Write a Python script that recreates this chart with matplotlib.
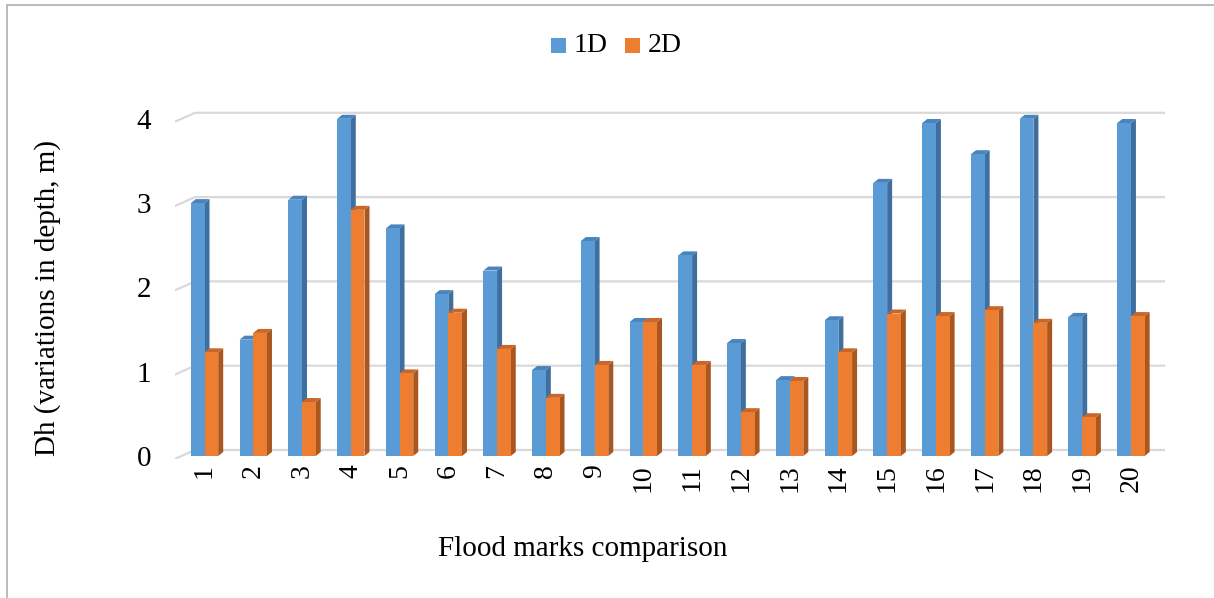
import matplotlib
matplotlib.use("Agg")
import matplotlib.pyplot as plt
from matplotlib.patches import Polygon, Rectangle
from matplotlib.lines import Line2D

# Flood mark depth variations (m)
marks = [str(i) for i in range(1, 21)]
dh_1d = [3.00, 1.38, 3.04, 4.00, 2.70, 1.92, 2.20, 1.02, 2.55, 1.59,
         2.38, 1.34, 0.90, 1.61, 3.24, 3.95, 3.58, 4.00, 1.65, 3.95]
dh_2d = [1.23, 1.46, 0.64, 2.92, 0.98, 1.70, 1.27, 0.69, 1.08, 1.59,
         1.08, 0.52, 0.89, 1.23, 1.69, 1.66, 1.73, 1.58, 0.46, 1.66]
series_names = ["1D", "2D"]
y_ticks = [0, 1, 2, 3, 4]

W, H = 1214, 598
DPI = 100
plt.rcParams["font.family"] = ["Liberation Serif", "DejaVu Serif"]

fig = plt.figure(figsize=(W / DPI, H / DPI), dpi=DPI)

# pixel scale of the plot area
px_per_x = 48.76
px_per_y = 84.3
x_lo, x_hi = -0.61, 19.70
y_lo, y_hi = -0.036, 4.30
base_px = 456
left_px = 204.5 + x_lo * px_per_x
right_px = 204.5 + x_hi * px_per_x
bottom_px = base_px - y_lo * px_per_y
top_px = base_px - y_hi * px_per_y
ax = fig.add_axes([left_px / W, 1 - bottom_px / H,
                   (right_px - left_px) / W, (bottom_px - top_px) / H])
ax.set_xlim(x_lo, x_hi)
ax.set_ylim(y_lo, y_hi)
for s in ax.spines.values():
    s.set_visible(False)

# depth offsets of the pseudo-3D look (in data units)
ddx = 5 / px_per_x
ddy = 4 / px_per_y
back_dy = 6 / px_per_y
front_dy = -3 / px_per_y
back_x = (195 - 204.5) / px_per_x

grid_col = "#d9d9d9"
for v in y_ticks:
    ax.add_line(Line2D([x_lo, back_x, x_hi], [v + front_dy, v + back_dy, v + back_dy],
                       color=grid_col, lw=1.6, zorder=1, solid_joinstyle="miter"))

bar_w = 13.7 / px_per_x
palette = [
    ("#5b9bd5", "#3f6f9e", "#4a84bd"),
    ("#ed7d31", "#a9561f", "#c9672a"),
]


def draw_bar(x0, h, cols, z):
    front, side, top = cols
    x1 = x0 + bar_w
    ax.add_patch(Polygon([(x1, 0), (x1 + ddx, ddy), (x1 + ddx, h + ddy), (x1, h)],
                         closed=True, facecolor=side, edgecolor="none", zorder=z))
    ax.add_patch(Polygon([(x0, h), (x1, h), (x1 + ddx, h + ddy), (x0 + ddx, h + ddy)],
                         closed=True, facecolor=top, edgecolor="none", zorder=z))
    ax.add_patch(Rectangle((x0, 0), bar_w, h, facecolor=front, edgecolor="none", zorder=z))


for i in range(len(marks)):
    draw_bar(i - bar_w, dh_1d[i], palette[0], 2 + i * 0.01)
    draw_bar(i, dh_2d[i], palette[1], 2.005 + i * 0.01)

# axis labels and ticks
ax.set_yticks(y_ticks)
ax.set_yticklabels([str(v) for v in y_ticks], fontsize=21)
ax.set_xticks(range(len(marks)))
ax.set_xticklabels(marks, rotation=90, fontsize=20)
ax.tick_params(axis="y", length=0, pad=17)
ax.tick_params(axis="x", length=0, pad=4)

fig.text(48 / W, 1 - 298 / H, "Dh (variations in depth, m)", rotation=90,
         ha="center", va="center", fontsize=21)
fig.text(583 / W, 1 - 549 / H, "Flood marks comparison",
         ha="center", va="center", fontsize=21)

# legend: colour swatch followed by series name
legend_slots = [551, 625]
sw = 15
for name, cols, lx in zip(series_names, palette, legend_slots):
    fig.add_artist(Rectangle((lx / W, 1 - 53 / H), sw / W, sw / H,
                             transform=fig.transFigure, facecolor=cols[0], edgecolor="none"))
    fig.text((lx + sw + 8) / W, 1 - 46 / H, name, ha="left", va="center", fontsize=20)

# outer chart frame
fig.add_artist(Rectangle((7 / W, -0.1), 1.2, 1 - 5 / H + 0.1, transform=fig.transFigure,
                         facecolor="none", edgecolor="#b5b5b5", lw=1.3))

fig.savefig("out.png", dpi=DPI)
